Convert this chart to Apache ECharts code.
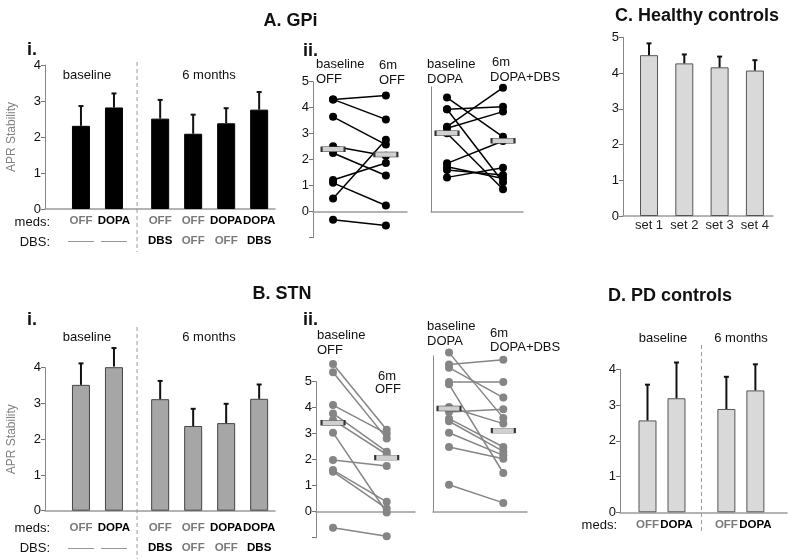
<!DOCTYPE html>
<html><head><meta charset="utf-8">
<script src="https://cdn.jsdelivr.net/npm/echarts@6/dist/echarts.min.js"></script>
<style>html,body{margin:0;padding:0;background:#fff}#c{width:788px;height:559px}</style>
</head><body><div id="c"></div>
<script>
// ---------- DATA ----------
// A.i GPi group means and SEM
const aiMeds = ['OFF', 'DOPA', 'OFF', 'OFF', 'DOPA', 'DOPA'];
const aiDbs  = ['—', '—', 'DBS', 'OFF', 'OFF', 'DBS'];
const aiMean = [2.31, 2.82, 2.51, 2.09, 2.38, 2.76];
const aiSem  = [0.55, 0.39, 0.52, 0.53, 0.42, 0.49];
// B.i STN
const biMeds = ['OFF', 'DOPA', 'OFF', 'OFF', 'DOPA', 'DOPA'];
const biDbs  = ['—', '—', 'DBS', 'OFF', 'OFF', 'DBS'];
const biMean = [3.52, 4.03, 3.12, 2.37, 2.45, 3.13];
const biSem  = [0.60, 0.52, 0.51, 0.48, 0.54, 0.40];
// C Healthy controls
const cCats = ['set 1', 'set 2', 'set 3', 'set 4'];
const cMean = [4.50, 4.27, 4.16, 4.07];
const cSem  = [0.33, 0.25, 0.30, 0.29];
// D PD controls
const dMeds = ['OFF', 'DOPA', 'OFF', 'DOPA'];
const dMean = [2.57, 3.19, 2.89, 3.41];
const dSem  = [1.00, 1.00, 0.90, 0.73];
// A.ii individual GPi subjects (baseline -> 6 months)
const aiiOffBase  = [4.32, 4.32, 3.65, 2.52, 2.26, 1.22, 1.11, 0.51, -0.31];
const aiiOff6m    = [4.47, 3.55, 2.58, 2.15, 1.39, 1.87, 0.24, 2.77, -0.53];
const aiiOffMeans = [2.40, 2.20];
const aiiDopaBase  = [4.39, 3.94, 3.94, 3.27, 3.21, 3.02, 1.86, 1.73, 1.60, 1.32];
const aiiDopa6m    = [2.88, 4.04, 1.13, 4.77, 3.85, 0.86, 2.72, 1.28, 1.41, 1.69];
const aiiDopaMeans = [3.02, 2.73];
// B.ii individual STN subjects
const biiOffBase  = [5.68, 5.36, 4.10, 3.78, 3.53, 3.04, 1.99, 1.60, 1.54, -0.62];
const biiOff6m    = [3.15, 2.82, 3.00, 2.31, 2.20, -0.03, 1.76, 0.38, 0.12, -0.94];
const biiOffMeans = [3.42, 2.08];
const biiDopaBase  = [6.13, 5.67, 5.55, 5.00, 4.91, 4.04, 3.85, 3.59, 3.49, 3.05, 2.50, 1.05];
const biiDopa6m    = [3.62, 5.86, 4.40, 5.00, 1.50, 3.40, 3.95, 2.50, 2.33, 2.18, 2.05, 0.35];
const biiDopaMeans = [3.98, 3.13];

// ---------- LAYOUT ----------
const FONT = '"Liberation Sans", Arial, sans-serif';
const grids = [
  {left: 45,  top: 65,    width: 230, height: 144},   // 0 A.i
  {left: 313, top: 81.7,  width: 94,  height: 156},   // 1 A.ii off
  {left: 431, top: 86.9,  width: 92,  height: 124.8}, // 2 A.ii dopa
  {left: 623, top: 37.3,  width: 150, height: 178.7}, // 3 C
  {left: 45,  top: 367.7, width: 230, height: 143},   // 4 B.i
  {left: 316, top: 381.7, width: 99,  height: 156},   // 5 B.ii off
  {left: 433, top: 356,   width: 94,  height: 156},   // 6 B.ii dopa
  {left: 620, top: 369.3, width: 167, height: 143}    // 7 D
];
const xRanges = [[-1.09, 5.88], [-0.38, 1.4], [-0.286, 1.357], [-0.737, 3.513],
                 [-1.09, 5.88], [-0.317, 1.527], [-0.295, 1.436], [-0.948, 4.81]];
const yRanges = [[0, 4], [-1, 5], [0, 4.8], [0, 5], [0, 4], [-1, 5], [0, 6], [0, 4]];
const yLabels = [true, true, false, true, true, true, false, true];

function slots(groupSizes, groupStarts) {
  const out = [];
  groupSizes.forEach((n, g) => { for (let i = 0; i < n; i++) out.push(groupStarts[g] + i); });
  return out;
}
const posAB = slots([2, 4], [0, 2.4]);
const posC  = slots([4], [0]);
const posD  = slots([2, 2], [0, 2.72]);

const RICH = {
  off:  {color: '#7a7a7a', fontWeight: 'bold', fontSize: 11.5, lineHeight: 20, fontFamily: FONT},
  on:   {color: '#000', fontWeight: 'bold', fontSize: 11.5, lineHeight: 20, fontFamily: FONT},
  dash: {color: '#8a8a8a', fontSize: 13, lineHeight: 20, fontFamily: FONT},
  set:  {color: '#222', fontSize: 13, lineHeight: 16, fontFamily: FONT}
};
function tag(t) {
  if (t === 'OFF') return '{off|OFF}';
  if (t === '—') return '{dash|——}';
  return '{on|' + t + '}';
}

function errRender(params, api) {
  const x = api.value(0), y = api.value(1), e = api.value(2);
  const p0 = api.coord([x, y]), p1 = api.coord([x, y + e]);
  return {type: 'group', children: [
    {type: 'line', shape: {x1: p0[0], y1: p0[1], x2: p1[0], y2: p1[1]}, style: {stroke: '#111', lineWidth: 2}},
    {type: 'line', shape: {x1: p1[0] - 2.5, y1: p1[1], x2: p1[0] + 2.5, y2: p1[1]}, style: {stroke: '#111', lineWidth: 2}}
  ]};
}

function barPanel(gi, means, sems, pos, fill, border, fmt, dist) {
  return [
    {type: 'bar', xAxisIndex: gi, yAxisIndex: gi, barWidth: 18, silent: true, z: 2,
     data: means.map((m, i) => [pos[i], m]),
     itemStyle: {color: fill, borderColor: border, borderWidth: 1},
     label: {show: true, position: 'bottom', distance: dist, formatter: p => fmt(p.dataIndex), rich: RICH}},
    {type: 'custom', xAxisIndex: gi, yAxisIndex: gi, z: 3, silent: true, clip: false,
     data: means.map((m, i) => [pos[i], m, sems[i]]), renderItem: errRender}
  ];
}

function pairPanel(gi, base, six, means, color) {
  const s = base.map((b, i) => ({
    type: 'line', xAxisIndex: gi, yAxisIndex: gi, silent: true, clip: false, z: 2,
    data: [[0, b], [1, six[i]]], symbol: 'circle', symbolSize: 8, showSymbol: true,
    lineStyle: {color: color, width: 1.5}, itemStyle: {color: color, borderWidth: 0}
  }));
  s.push({type: 'scatter', xAxisIndex: gi, yAxisIndex: gi, silent: true, z: 5, clip: false,
    data: [[0, means[0]], [1, means[1]]], symbol: 'rect', symbolSize: [23, 5],
    itemStyle: {color: '#d0d0d0', borderColor: '#333', borderWidth: 1, opacity: 1}});
  return s;
}

const series = [].concat(
  barPanel(0, aiMean, aiSem, posAB, '#000', '#000', i => tag(aiMeds[i]) + '\n' + tag(aiDbs[i]), 2),
  pairPanel(1, aiiOffBase, aiiOff6m, aiiOffMeans, '#000'),
  pairPanel(2, aiiDopaBase, aiiDopa6m, aiiDopaMeans, '#000'),
  barPanel(3, cMean, cSem, posC, '#d9d9d9', '#555', i => '{set|' + cCats[i] + '}', 1),
  barPanel(4, biMean, biSem, posAB, '#a6a6a6', '#444', i => tag(biMeds[i]) + '\n' + tag(biDbs[i]), 7.5),
  pairPanel(5, biiOffBase, biiOff6m, biiOffMeans, '#858585'),
  pairPanel(6, biiDopaBase, biiDopa6m, biiDopaMeans, '#858585'),
  barPanel(7, dMean, dSem, posD, '#d9d9d9', '#555', i => tag(dMeds[i]), 2.7)
);

const xAxis = grids.map((g, i) => ({
  type: 'value', gridIndex: i, min: xRanges[i][0], max: xRanges[i][1],
  axisLabel: {show: false}, axisTick: {show: false}, splitLine: {show: false},
  axisLine: {show: true, onZero: true, lineStyle: {color: '#9a9a9a', width: 1.5}}
}));
const yAxis = grids.map((g, i) => ({
  type: 'value', gridIndex: i, min: yRanges[i][0], max: yRanges[i][1],
  interval: 1, splitLine: {show: false},
  axisLine: {show: true, onZero: false, lineStyle: {color: '#888', width: 1}},
  axisTick: {show: yLabels[i], length: 4, lineStyle: {color: '#777'}},
  axisLabel: {show: yLabels[i], color: '#111', fontSize: 13, fontFamily: FONT, margin: 4,
              formatter: v => (v < 0 ? '' : String(v))},
  name: (i === 0 || i === 4) ? 'APR Stability' : '',
  nameLocation: 'middle', nameGap: 27, nameRotate: 90,
  nameTextStyle: {color: '#808080', fontSize: 12, fontFamily: FONT}
}));

const chart = echarts.init(document.getElementById('c'), null, {renderer: 'canvas'});
chart.setOption({
  animation: false,
  backgroundColor: '#fff',
  textStyle: {fontFamily: FONT},
  grid: grids.map(g => Object.assign({containLabel: false, outerBoundsMode: 'none'}, g)),
  xAxis: xAxis, yAxis: yAxis, series: series
});

// ---------- TEXT & SEPARATORS ----------
function txt(text, x, y, opt) {
  opt = opt || {};
  return {type: 'text', x: x, y: y, silent: true, z: 10, style: {
    text: text, fill: opt.fill || '#111',
    font: (opt.bold ? 'bold ' : '') + (opt.size || 13) + 'px ' + FONT,
    align: opt.align || 'left', verticalAlign: 'middle', lineHeight: opt.lh || 15
  }};
}
function sepLine(gi, xv, y1, y2) {
  const px = chart.convertToPixel({xAxisIndex: gi}, xv);
  return {type: 'line', silent: true, z: 1, shape: {x1: px, y1: y1, x2: px, y2: y2},
          style: {stroke: '#999', lineWidth: 1, lineDash: [4, 3]}};
}
const graphics = [
  txt('A. GPi', 290.5, 21, {bold: true, size: 18, align: 'center'}),
  txt('B. STN', 282, 294, {bold: true, size: 18, align: 'center'}),
  txt('C. Healthy controls', 697, 16, {bold: true, size: 18, align: 'center'}),
  txt('D. PD controls', 670, 296, {bold: true, size: 18, align: 'center'}),
  txt('i.', 27, 50, {bold: true, size: 18}),
  txt('i.', 27, 320, {bold: true, size: 18}),
  txt('ii.', 303, 51, {bold: true, size: 18}),
  txt('ii.', 303, 320, {bold: true, size: 18}),
  // A.i
  txt('baseline', 87, 75, {align: 'center'}),
  txt('6 months', 209, 75, {align: 'center'}),
  txt('meds:', 50, 222, {align: 'right'}),
  txt('DBS:', 50, 242, {align: 'right'}),
  // B.i
  txt('baseline', 87, 337, {align: 'center'}),
  txt('6 months', 209, 337, {align: 'center'}),
  txt('meds:', 50, 528, {align: 'right'}),
  txt('DBS:', 50, 548, {align: 'right'}),
  // D
  txt('baseline', 663, 338, {align: 'center'}),
  txt('6 months', 741, 338, {align: 'center'}),
  txt('meds:', 617, 525, {align: 'right'}),
  // A.ii
  txt('baseline\nOFF', 316, 72),
  txt('6m', 379, 65),
  txt('OFF', 405, 80, {align: 'right'}),
  txt('baseline\nDOPA', 427, 72),
  txt('6m', 492, 62),
  txt('DOPA+DBS', 490, 77),
  // B.ii
  txt('baseline\nOFF', 317, 343),
  txt('6m', 378, 376),
  txt('OFF', 375, 389),
  txt('baseline\nDOPA', 427, 334),
  txt('6m', 490, 333),
  txt('DOPA+DBS', 490, 347),
  // separators
  sepLine(0, (posAB[1] + posAB[2]) / 2, 62, 252),
  sepLine(4, (posAB[1] + posAB[2]) / 2, 327, 559),
  sepLine(7, (posD[1] + posD[2]) / 2, 345, 533)
];
chart.setOption({graphic: graphics});
</script></body></html>
